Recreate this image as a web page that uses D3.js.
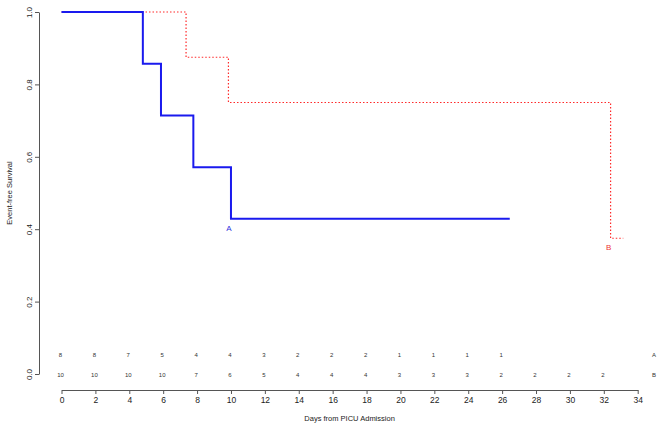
<!DOCTYPE html>
<html><head><meta charset="utf-8">
<script src="https://cdn.jsdelivr.net/npm/d3@7"></script>
<style>body{margin:0;background:#fff}svg{display:block}text{font-family:"Liberation Sans",Arial,sans-serif}</style>
</head><body><svg id="c" width="664" height="431"></svg>
<script>
// Kaplan-Meier step curves: [time, survival]
const seriesA = [[0,1],[4.8,1],[4.8,0.857],[5.87,0.857],[5.87,0.714],[7.78,0.714],[7.78,0.571],[10.0,0.571],[10.0,0.4286],[26.45,0.4286]];
const seriesB = [[0,1],[7.35,1],[7.35,0.875],[9.85,0.875],[9.85,0.75],[32.4,0.75],[32.4,0.375],[33.15,0.375]];
const riskTimes = [0,2,4,6,8,10,12,14,16,18,20,22,24,26,28,30,32];
const riskA = [8,8,7,5,4,4,3,2,2,2,1,1,1,1];
const riskB = [10,10,10,10,7,6,5,4,4,4,3,3,3,2,2,2,2];
const groupNames = ["A","B"];
const xTicks = d3.range(0,35,2);
const yTicks = [0,0.2,0.4,0.6,0.8,1.0];

const svg = d3.select("#c");
const x = d3.scaleLinear().domain([0,34]).range([61.5,637.7]);
const y = d3.scaleLinear().domain([0,1]).range([374,12]);
const axCol = "#555";

// x axis
const xa = svg.append("g").attr("transform","translate(0,390)")
  .call(d3.axisBottom(x).tickValues(xTicks).tickSize(4).tickPadding(3).tickSizeOuter(0));
xa.select(".domain").attr("stroke",axCol);
xa.selectAll(".tick line").attr("stroke",axCol);
xa.selectAll(".tick text").attr("font-size",8.5).attr("fill","#222").attr("font-family","Liberation Sans, Arial, sans-serif");

// y axis
const ya = svg.append("g").attr("transform","translate(39,0)")
  .call(d3.axisLeft(y).tickValues(yTicks).tickFormat(d3.format(".1f")).tickSize(4).tickSizeOuter(0));
ya.select(".domain").attr("stroke",axCol);
ya.selectAll(".tick line").attr("stroke",axCol);
ya.selectAll(".tick text").attr("font-size",8).attr("fill","#222").attr("font-family","Liberation Sans, Arial, sans-serif")
  .attr("text-anchor","middle").attr("dx",0).attr("x",0)
  .attr("transform","translate(-10,0) rotate(-90)").attr("dy","0.32em");

svg.append("text").attr("x",x(17)).attr("y",421).attr("text-anchor","middle")
  .attr("font-size",7.5).attr("fill","#222").text("Days from PICU Admission");
svg.append("text").attr("transform",`translate(12,${y(0.5)}) rotate(-90)`).attr("text-anchor","middle")
  .attr("font-size",7.5).attr("fill","#222").text("Event-free Survival");

const line = d3.line().x(d=>x(d[0])).y(d=>y(d[1]));
svg.append("path").datum(seriesB).attr("d",line).attr("fill","none")
  .attr("stroke","#ff2a2a").attr("stroke-width",1.2).attr("stroke-dasharray","1.5,2");
svg.append("path").datum(seriesA).attr("d",line).attr("fill","none")
  .attr("stroke","#1a1aee").attr("stroke-width",2);

// curve labels
svg.append("text").attr("x",x(10)-2).attr("y",y(0.4286)+12).attr("text-anchor","middle")
  .attr("font-size",8).attr("fill","#3333dd").text(groupNames[0]);
svg.append("text").attr("x",x(32.4)-2).attr("y",y(0.375)+12).attr("text-anchor","middle")
  .attr("font-size",8).attr("fill","#ee3333").text(groupNames[1]);

// risk table
const rt = svg.append("g").attr("font-size",6).attr("fill","#333").attr("text-anchor","middle");
riskA.forEach((v,i)=>rt.append("text").attr("x",x(riskTimes[i])-1).attr("y",357).text(v));
riskB.forEach((v,i)=>rt.append("text").attr("x",x(riskTimes[i])-1).attr("y",377).text(v));
rt.append("text").attr("x",654).attr("y",357).text(groupNames[0]);
rt.append("text").attr("x",654).attr("y",377).text(groupNames[1]);
</script></body></html>
